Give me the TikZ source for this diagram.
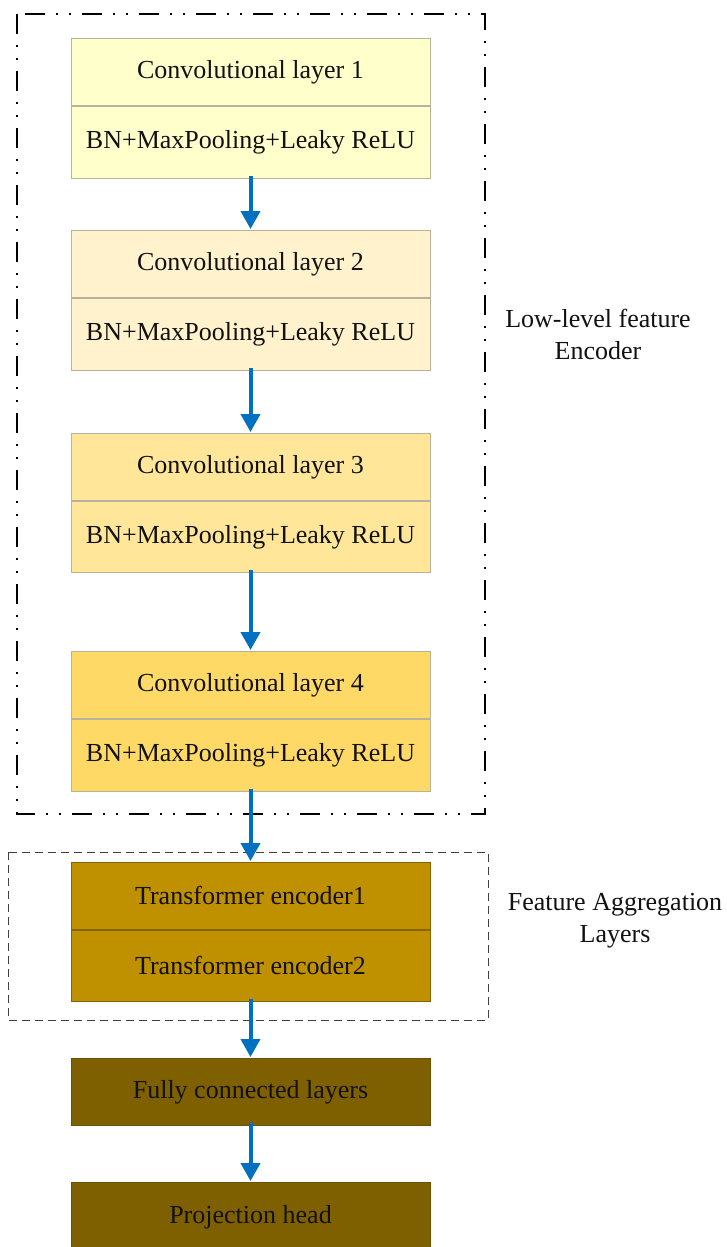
\documentclass[tikz,border=0pt]{standalone}
\usepackage{fontspec}
\setmainfont{Liberation Serif}
\usetikzlibrary{arrows.meta}
\definecolor{cA}{HTML}{FFFFCC}
\definecolor{cB}{HTML}{FFF2CC}
\definecolor{cC}{HTML}{FFE699}
\definecolor{cD}{HTML}{FFD966}
\definecolor{cE}{HTML}{BF9000}
\definecolor{cF}{HTML}{7F6000}
\definecolor{arrowblue}{HTML}{0070C0}
\definecolor{txt}{HTML}{111111}
\definecolor{lightedge}{HTML}{B8B29A}
\tikzset{
  part/.style={draw=lightedge, line width=0.9pt, minimum width=359pt, inner sep=0pt,
    text=txt, font=\fontsize{26}{30}\selectfont, anchor=north},
  toppart/.style={part, minimum height=67pt},
  botpart/.style={part, minimum height=72pt},
  flow/.style={draw=arrowblue, line width=4pt, -{Triangle[width=19pt,length=18pt]}, shorten >=1pt},
  label/.style={text=txt, align=center, font=\fontsize{26}{32}\selectfont},
  encbox/.style={line width=2.8pt, dash pattern=on 20pt off 11pt on 2pt off 11pt on 2pt off 11pt},
  aggbox/.style={draw=black!75, line width=1pt, dash pattern=on 8pt off 5pt}
}
\begin{document}
\begin{tikzpicture}[x=1pt,y=-1pt]
\useasboundingbox (0,0) rectangle (727,1247);
\clip (0,0) rectangle (727,1247);
% outer groups
\draw[encbox] (17,14) rectangle (485,814);
\draw[aggbox] (8,852) rectangle (488,1020);
% conv blocks
\node[toppart, fill=cA] (c1a) at (250.5,38) {Convolutional layer 1};
\node[botpart, fill=cA] (c1b) at (c1a.south) {BN+MaxPooling+Leaky ReLU};
\node[toppart, fill=cB] (c2a) at (250.5,230) {Convolutional layer 2};
\node[botpart, fill=cB] (c2b) at (c2a.south) {BN+MaxPooling+Leaky ReLU};
\node[toppart, fill=cC] (c3a) at (250.5,433) {Convolutional layer 3};
\node[botpart, fill=cC, minimum height=71pt] (c3b) at (c3a.south) {BN+MaxPooling+Leaky ReLU};
\node[toppart, fill=cD] (c4a) at (250.5,651) {Convolutional layer 4};
\node[botpart, fill=cD] (c4b) at (c4a.south) {BN+MaxPooling+Leaky ReLU};
% transformer
\node[toppart, fill=cE, draw=cE!70!black] (t1) at (250.5,862) {Transformer encoder1};
\node[botpart, fill=cE, draw=cE!70!black, minimum height=71pt] (t2) at (t1.south) {Transformer encoder2};
% heads
\node[toppart, fill=cF, draw=cF!85!black] (fc) at (250.5,1058) {Fully connected layers};
\node[toppart, fill=cF, draw=cF!85!black, minimum height=70pt] (ph) at (250.5,1182) {Projection head};
% arrows
\draw[flow] ([yshift=3pt]c1b.south) -- (c2a.north);
\draw[flow] ([yshift=3pt]c2b.south) -- (c3a.north);
\draw[flow] ([yshift=3pt]c3b.south) -- (c4a.north);
\draw[flow] ([yshift=3pt]c4b.south) -- (t1.north);
\draw[flow] ([yshift=3pt]t2.south) -- (fc.north);
\draw[flow] ([yshift=3pt]fc.south) -- (ph.north);
% labels
\node[label] (encl) at (598,334) {Low-level feature\\Encoder};
\node[label] (aggl) at (615,921) {Feature Aggregation\\Layers};
\end{tikzpicture}
\end{document}
